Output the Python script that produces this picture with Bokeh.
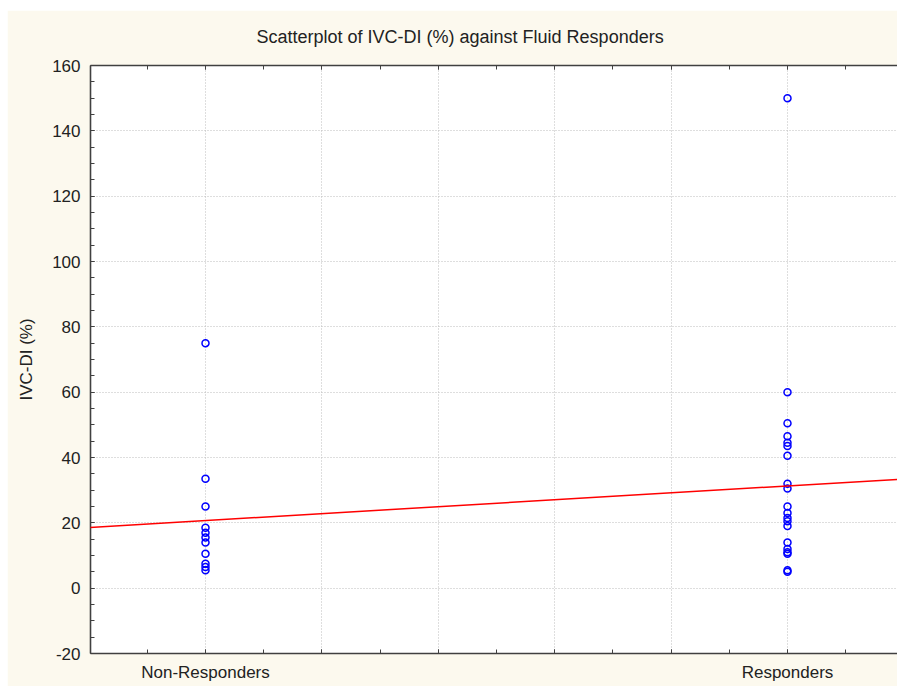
from bokeh.plotting import figure
from bokeh.models import (ColumnDataSource, LinearAxis, SingleIntervalTicker,
                          CustomJSTickFormatter, Slope, Range1d)
from bokeh.embed import file_html
from bokeh.resources import INLINE

# ---- data ----
categories = ["Non-Responders", "Responders"]
non_responders = [75, 33.5, 25, 18.5, 17, 15.5, 14, 10.5, 7.5, 6.5, 5.5]
responders = [150, 60, 50.5, 46.5, 44.5, 43.5, 40.5, 32, 30.5, 25, 23, 21.5,
              20.5, 19, 14, 12, 11, 10.5, 5.5, 5]
fit_intercept = 20.7   # value of the fitted line at Non-Responders
fit_slope = 10.6       # change from Non-Responders to Responders
y_ticks_interval = 20
title_text = "Scatterplot of IVC-DI (%) against Fluid Responders"
y_label = "IVC-DI (%)"

xs = [0] * len(non_responders) + [1] * len(responders)
ys = non_responders + responders
src = ColumnDataSource(dict(x=xs, y=ys))

FONT = "Liberation Sans"
CREAM = "#FCF9EE"

p = figure(width=890, height=676, output_backend="svg", toolbar_location=None,
           x_range=Range1d(-0.1976, 1.1890), y_range=Range1d(-20, 160),
           min_border_left=83, min_border_top=55, min_border_bottom=33,
           min_border_right=0, background_fill_color="white",
           border_fill_color=CREAM, outline_line_color=None)
p.margin = (10, 0, 0, 7)

p.title.text = title_text
p.title.align = "left"
p.title.offset = 166
p.title.standoff = 33
p.title.vertical_align = "top"
p.title.text_font = FONT
p.title.text_font_size = "18px"
p.title.text_font_style = "normal"
p.title.text_color = "#222222"

fmt = CustomJSTickFormatter(args=dict(cats=categories), code="""
const i = Math.round(tick);
return (Math.abs(tick - i) < 1e-6 && i >= 0 && i < cats.length) ? cats[i] : '';
""")
yfmt = CustomJSTickFormatter(code="return tick.toFixed(0);")

xticker = SingleIntervalTicker(interval=0.2, num_minor_ticks=2)
yticker = SingleIntervalTicker(interval=y_ticks_interval, num_minor_ticks=4)

xa = p.xaxis[0]
xa.ticker = xticker
xa.formatter = fmt
ya = p.yaxis[0]
ya.ticker = yticker
ya.formatter = yfmt
ya.axis_label = y_label

top = LinearAxis(ticker=xticker, formatter=CustomJSTickFormatter(code="return '';"),
                 major_label_standoff=0)
p.add_layout(top, "above")

for ax in [xa, ya, top]:
    ax.axis_line_color = "#404040"
    ax.axis_line_width = 1.6
    ax.major_tick_line_color = "#404040"
    ax.minor_tick_line_color = "#404040"
    ax.major_tick_in = 4
    ax.major_tick_out = 0
    ax.minor_tick_in = 4
    ax.minor_tick_out = 0
    ax.major_label_text_font = FONT
    ax.major_label_text_font_size = "17px"
    ax.major_label_text_color = "#222222"

xa.major_label_standoff = 9
ya.major_label_standoff = 10
ya.axis_label_text_font = FONT
ya.axis_label_text_font_size = "17px"
ya.axis_label_text_font_style = "normal"
ya.axis_label_text_color = "#222222"
ya.axis_label_standoff = 13

p.xgrid.ticker = xticker
p.ygrid.ticker = yticker
for g in [p.xgrid[0], p.ygrid[0]]:
    g.grid_line_color = "#BDBDBD"
    g.grid_line_dash = "1 2"
    g.grid_line_width = 1

p.scatter("x", "y", source=src, marker="circle", size=7, fill_color=None,
          line_color="#0000FF", line_width=1.5)

p.add_layout(Slope(gradient=fit_slope, y_intercept=fit_intercept,
                   line_color="#FF0000", line_width=1.5))

open("out.html", "w").write(file_html(p, INLINE))
